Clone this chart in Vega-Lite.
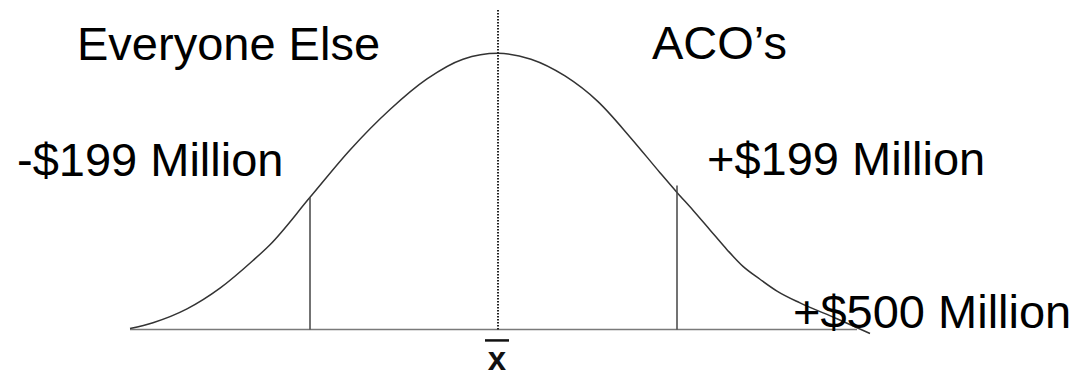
{
  "$schema": "https://vega.github.io/schema/vega-lite/v6.json",
  "width": 1076,
  "height": 377,
  "padding": 0,
  "autosize": {"type": "fit", "contains": "padding"},
  "background": "white",
  "view": {"stroke": null},
  "config": {"text": {"font": "Liberation Sans"}},
  "layer": [
    {
      "data": {"values": [{"u1": -368, "u2": 359, "h": 0}]},
      "mark": {"type": "rule", "color": "#7a7a7a", "strokeWidth": 1.6},
      "encoding": {
        "x": {"field": "u1", "type": "quantitative", "axis": null, "scale": {"domain": [-498, 578], "nice": false, "zero": false}},
        "x2": {"field": "u2"},
        "y": {"field": "h", "type": "quantitative", "axis": null, "scale": {"domain": [-43, 334], "nice": false, "zero": false}}
      }
    },
    {
      "data": {"values": [
        {"u": -368, "h": 1}, {"u": -345, "h": 7}, {"u": -311, "h": 21}, {"u": -278, "h": 42},
        {"u": -245, "h": 70}, {"u": -228, "h": 86},
        {"u": -188, "h": 134}, {"u": -148, "h": 182}, {"u": -108, "h": 223}, {"u": -71, "h": 254},
        {"u": -35, "h": 274}, {"u": 0, "h": 280}, {"u": 33, "h": 274}, {"u": 67, "h": 257},
        {"u": 100, "h": 231}, {"u": 133, "h": 194}, {"u": 162, "h": 159}, {"u": 179, "h": 139},
        {"u": 195, "h": 121}, {"u": 212, "h": 101}, {"u": 229, "h": 81}, {"u": 245, "h": 64},
        {"u": 262, "h": 51}, {"u": 279, "h": 39}, {"u": 302, "h": 27},
        {"u": 339, "h": 11}, {"u": 372, "h": -4}
      ]},
      "mark": {"type": "line", "interpolate": "monotone", "color": "#333333", "strokeWidth": 1.5},
      "encoding": {
        "x": {"field": "u", "type": "quantitative", "axis": null, "scale": {"domain": [-498, 578], "nice": false, "zero": false}},
        "y": {"field": "h", "type": "quantitative", "axis": null, "scale": {"domain": [-43, 334], "nice": false, "zero": false}}
      }
    },
    {
      "data": {"values": [{"u": -188, "h1": 0, "h2": 134}, {"u": 179, "h1": 0, "h2": 146}]},
      "mark": {"type": "rule", "color": "#444444", "strokeWidth": 1.5},
      "encoding": {
        "x": {"field": "u", "type": "quantitative", "axis": null, "scale": {"domain": [-498, 578], "nice": false, "zero": false}},
        "y": {"field": "h1", "type": "quantitative", "axis": null, "scale": {"domain": [-43, 334], "nice": false, "zero": false}},
        "y2": {"field": "h2"}
      }
    },
    {
      "data": {"values": [{"u": 0, "h1": 0, "h2": 325}]},
      "mark": {"type": "rule", "color": "#222222", "strokeWidth": 2, "strokeDash": [1.5, 1.5]},
      "encoding": {
        "x": {"field": "u", "type": "quantitative", "axis": null, "scale": {"domain": [-498, 578], "nice": false, "zero": false}},
        "y": {"field": "h1", "type": "quantitative", "axis": null, "scale": {"domain": [-43, 334], "nice": false, "zero": false}},
        "y2": {"field": "h2"}
      }
    },
    {
      "data": {"values": [{"u1": -13, "u2": 11, "h": -11}]},
      "mark": {"type": "rule", "color": "#111111", "strokeWidth": 2.5},
      "encoding": {
        "x": {"field": "u1", "type": "quantitative", "axis": null, "scale": {"domain": [-498, 578], "nice": false, "zero": false}},
        "x2": {"field": "u2"},
        "y": {"field": "h", "type": "quantitative", "axis": null, "scale": {"domain": [-43, 334], "nice": false, "zero": false}}
      }
    },
    {
      "data": {"values": [
        {"u": -421, "h": 273, "label": "Everyone Else"},
        {"u": 154, "h": 274, "label": "ACO’s"},
        {"u": -481, "h": 156, "label": "-$199 Million"},
        {"u": 209, "h": 157, "label": "+$199 Million"},
        {"u": 295, "h": 2, "label": "+$500 Million"}
      ]},
      "mark": {"type": "text", "align": "left", "baseline": "alphabetic", "fontSize": 47, "color": "#000000"},
      "encoding": {
        "x": {"field": "u", "type": "quantitative", "axis": null, "scale": {"domain": [-498, 578], "nice": false, "zero": false}},
        "y": {"field": "h", "type": "quantitative", "axis": null, "scale": {"domain": [-43, 334], "nice": false, "zero": false}},
        "text": {"field": "label"}
      }
    },
    {
      "data": {"values": [{"u": -1, "h": -41, "label": "x"}]},
      "mark": {"type": "text", "align": "center", "baseline": "alphabetic", "fontSize": 33, "fontWeight": "bold", "color": "#111111"},
      "encoding": {
        "x": {"field": "u", "type": "quantitative", "axis": null, "scale": {"domain": [-498, 578], "nice": false, "zero": false}},
        "y": {"field": "h", "type": "quantitative", "axis": null, "scale": {"domain": [-43, 334], "nice": false, "zero": false}},
        "text": {"field": "label"}
      }
    }
  ]
}
